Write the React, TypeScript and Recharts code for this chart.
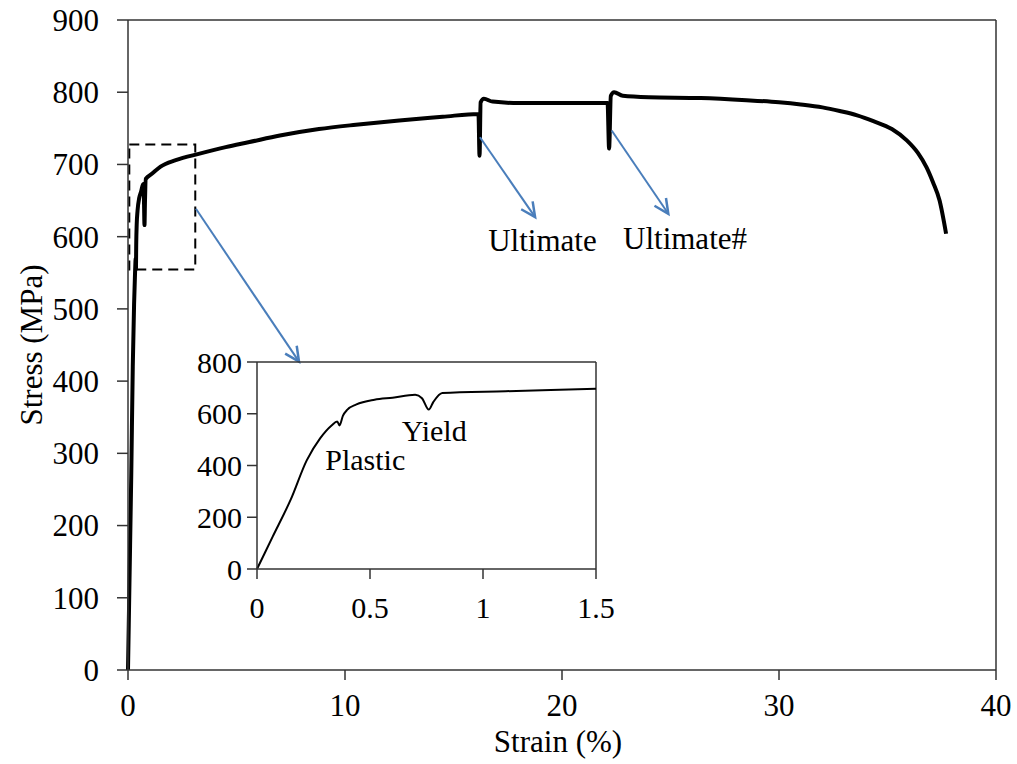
import React from 'react';
import {
  Line,
  LineChart,
  ReferenceArea,
  ReferenceDot,
  ReferenceLine,
  XAxis,
  YAxis,
} from 'recharts';

// strain (%) and stress (MPa)
const strain = [
  0, 0.07, 0.15, 0.22, 0.28, 0.33, 0.355, 0.365, 0.38, 0.4, 0.44, 0.52, 0.6, 0.7, 0.73, 0.76, 0.78,
  0.82, 1.1, 1.5, 2.2, 3.3, 4.5, 5.6, 7, 8.8, 10.5, 12.5, 14.5, 16.15, 16.2, 16.25, 16.4, 16.8, 18,
  20, 22.1, 22.17, 22.25, 22.4, 22.8, 24, 26.4, 28.5, 30, 31, 32, 32.8, 33.6, 34.35, 35.2, 35.9,
  36.4, 36.8, 37.1, 37.4, 37.7,
];
const stress = [
  0, 126, 270, 420, 506, 555, 570, 555, 592, 616, 636, 654, 662, 673, 660, 616, 645, 680, 687, 697,
  706, 715, 724, 731, 740, 749, 755, 761, 766, 770, 712, 786, 791, 787, 785, 785, 785, 722, 795,
  800, 795, 793, 792, 789, 786, 783, 779, 774, 768, 760, 749, 733, 716, 696, 675, 650, 604,
];

const mainXTicks = [0, 10, 20, 30, 40];
const mainYTicks = [0, 100, 200, 300, 400, 500, 600, 700, 800, 900];
const insetXTicks = [0, 0.5, 1, 1.5];
const insetYTicks = [0, 200, 400, 600, 800];

const FONT = 'Liberation Serif';
const AXIS = '#333';
const ARROW = '#4A7EBB';

const data = strain.map((s, i) => ({ strain: s, stress: stress[i] }));
const insetData = data.filter((d) => d.strain <= 1.5);

function Arrow(props: any) {
  const { x1, y1, x2, y2 } = props;
  if ([x1, y1, x2, y2].some((v) => typeof v !== 'number')) return null;
  const ang = Math.atan2(y2 - y1, x2 - x1);
  const len = 16;
  const spread = 0.45;
  const ax = x2 - len * Math.cos(ang - spread);
  const ay = y2 - len * Math.sin(ang - spread);
  const bx = x2 - len * Math.cos(ang + spread);
  const by = y2 - len * Math.sin(ang + spread);
  return (
    <g>
      <line x1={x1} y1={y1} x2={x2} y2={y2} stroke={ARROW} strokeWidth={2} />
      <polyline
        points={`${ax},${ay} ${x2},${y2} ${bx},${by}`}
        fill="none"
        stroke={ARROW}
        strokeWidth={2.5}
      />
    </g>
  );
}

const xTick = (size: number) => (p: any) => (
  <text x={p.x} y={p.y} dy="0.71em" textAnchor="middle" fontFamily={FONT} fontSize={size} fill="#000">
    {p.payload.value}
  </text>
);
const yTick = (size: number) => (p: any) => (
  <text x={p.x} y={p.y} dy="0.35em" textAnchor="end" fontFamily={FONT} fontSize={size} fill="#000">
    {p.payload.value}
  </text>
);

const labelText = (value: string, x: number, y: number, size = 31) => (
  <ReferenceDot
    x={x}
    y={y}
    r={1}
    shape={(p: any) => (
      <text
        x={p.cx}
        y={p.cy}
        dy="0.35em"
        textAnchor="middle"
        fontFamily={FONT}
        fontSize={size}
        fill="#000"
      >
        {value}
      </text>
    )}
  />
);

export default function App() {
  return (
    <div style={{ position: 'absolute', left: 0, top: 0, width: 1017, height: 764, background: '#fff' }}>
      <LineChart
        width={1017}
        height={764}
        data={data}
        margin={{ top: 20, right: 21, left: 0, bottom: 0 }}
      >
        <XAxis
          type="number"
          dataKey="strain"
          domain={[0, 40]}
          ticks={mainXTicks}
          height={94}
          tickSize={10}
          tickMargin={14}
          tick={xTick(31)}
          axisLine={{ stroke: AXIS, strokeWidth: 1.5 }}
          tickLine={{ stroke: AXIS, strokeWidth: 1.5 }}
          label={{
            content: (p: any) => {
              const vb = p.viewBox || {};
              return (
                <text
                  x={vb.x + vb.width / 2 - 4}
                  y={752}
                  textAnchor="middle"
                  fontFamily={FONT}
                  fontSize={31}
                  fill="#000"
                >
                  Strain (%)
                </text>
              );
            },
          }}
        />
        <YAxis
          type="number"
          domain={[0, 900]}
          ticks={mainYTicks}
          width={128}
          tickSize={11}
          tickMargin={18}
          tick={yTick(31)}
          axisLine={{ stroke: AXIS, strokeWidth: 1.5 }}
          tickLine={{ stroke: AXIS, strokeWidth: 1.5 }}
          label={{
            content: (p: any) => {
              const vb = p.viewBox || {};
              const cy = vb.y + vb.height / 2;
              return (
                <text
                  x={42}
                  y={cy}
                  transform={`rotate(-90 42 ${cy})`}
                  textAnchor="middle"
                  fontFamily={FONT}
                  fontSize={31}
                  fill="#000"
                >
                  Stress (MPa)
                </text>
              );
            },
          }}
        />
        <ReferenceLine y={900} stroke={AXIS} strokeWidth={1.5} />
        <ReferenceLine x={40} stroke={AXIS} strokeWidth={1.5} />
        <ReferenceArea
          x1={0.06}
          x2={3.1}
          y1={554.5}
          y2={727.6}
          fill="none"
          fillOpacity={0}
          stroke="#000"
          strokeWidth={2}
          strokeDasharray="10 6"
        />
        <Line
          type="monotone"
          dataKey="stress"
          stroke="#000"
          strokeWidth={4}
          dot={false}
          isAnimationActive={false}
        />
        <ReferenceLine
          segment={[
            { x: 3.13, y: 638.6 },
            { x: 7.88, y: 427 },
          ]}
          shape={Arrow}
        />
        <ReferenceLine
          segment={[
            { x: 16.22, y: 737.7 },
            { x: 18.76, y: 627 },
          ]}
          shape={Arrow}
        />
        <ReferenceLine
          segment={[
            { x: 22.29, y: 747 },
            { x: 24.9, y: 631.7 },
          ]}
          shape={Arrow}
        />
        {labelText('Ultimate', 19.1, 594.7)}
        {labelText('Ultimate#', 25.67, 598.2)}
      </LineChart>

      <div style={{ position: 'absolute', left: 170, top: 330 }}>
        <LineChart
          width={460}
          height={310}
          data={insetData}
          margin={{ top: 32, right: 34, left: 0, bottom: 0 }}
        >
          <XAxis
            type="number"
            dataKey="strain"
            domain={[0, 1.5]}
            ticks={insetXTicks}
            height={71}
            tickSize={10}
            tickMargin={18}
            tick={xTick(30)}
            axisLine={{ stroke: AXIS, strokeWidth: 1.5 }}
            tickLine={{ stroke: AXIS, strokeWidth: 1.5 }}
          />
          <YAxis
            type="number"
            domain={[0, 800]}
            ticks={insetYTicks}
            width={87}
            tickSize={10}
            tickMargin={5}
            tick={yTick(30)}
            axisLine={{ stroke: AXIS, strokeWidth: 1.5 }}
            tickLine={{ stroke: AXIS, strokeWidth: 1.5 }}
          />
          <ReferenceLine y={800} stroke={AXIS} strokeWidth={1.5} />
          <ReferenceLine x={1.5} stroke={AXIS} strokeWidth={1.5} />
          <Line
            type="monotone"
            dataKey="stress"
            stroke="#000"
            strokeWidth={2}
            dot={false}
            isAnimationActive={false}
          />
          {labelText('Plastic', 0.479, 423, 30)}
          {labelText('Yield', 0.784, 536.4, 30)}
        </LineChart>
      </div>
    </div>
  );
}
